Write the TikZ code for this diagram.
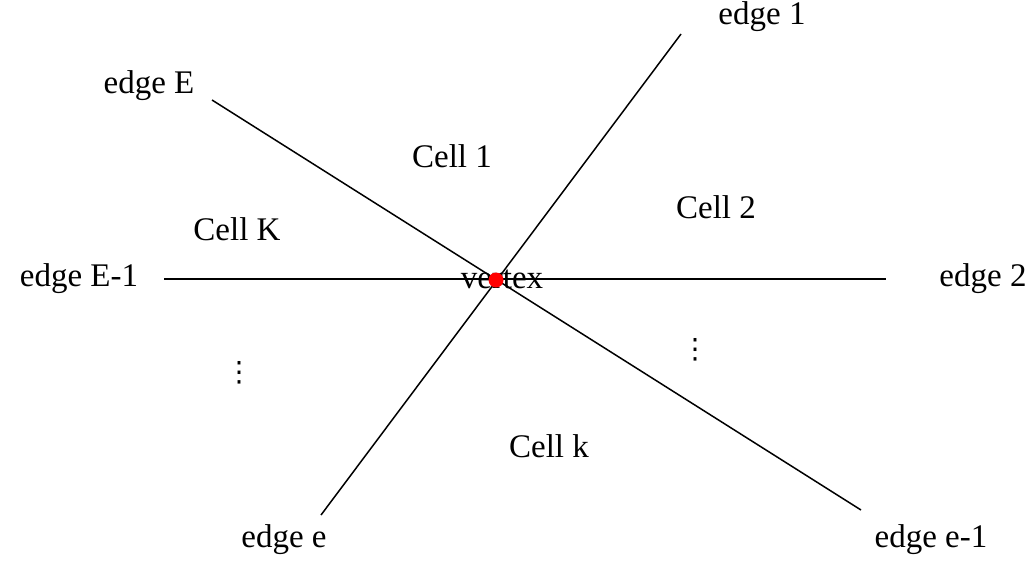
\documentclass[tikz,border=0pt]{standalone}
\usepackage{fontspec}
\setmainfont{Liberation Serif}
\newfontfamily\dvfont{DejaVu Sans}
\begin{document}
\begin{tikzpicture}[x=1pt,y=-1pt,
  lbl/.style={inner sep=0pt,font=\fontsize{33}{38}\selectfont},
  dotlbl/.style={inner sep=0pt,font=\dvfont\fontsize{28}{32}\selectfont},
  edgeline/.style={line width=1.5pt,black}]
\useasboundingbox (0,0) rectangle (1030,565);
% endpoints
\coordinate (h1) at (164,279);
\coordinate (h2) at (886,279);
\coordinate (a1) at (681,34);
\coordinate (a2) at (321,515);
\coordinate (b1) at (212,100);
\coordinate (b2) at (861,510);
\coordinate (v) at (496,280);
\draw[edgeline] (h1) -- (h2);
\draw[edgeline] (a1) -- (a2);
\draw[edgeline] (b1) -- (b2);
\node[lbl] (vt) at (502,279) {vertex};
\fill[red] (v) circle (7.5pt);
% labels
\node[lbl] (e1) at (762,17) {edge 1};
\node[lbl] (eE) at (149,86) {edge E};
\node[lbl] (c1) at (452,156) {Cell 1};
\node[lbl] (c2) at (716,207) {Cell 2};
\node[lbl] (cK) at (237,229) {Cell K};
\node[lbl] (eE1) at (79,279) {edge E-1};
\node[lbl] (e2) at (983,279) {edge 2};
\node[dotlbl] (d1) at (239,373) {⋮};
\node[dotlbl] (d2) at (695,350) {⋮};
\node[lbl] (ck) at (549,446) {Cell k};
\node[lbl] (ee) at (284,540) {edge e};
\node[lbl] (ee1) at (931,540) {edge e-1};
\end{tikzpicture}
\end{document}
